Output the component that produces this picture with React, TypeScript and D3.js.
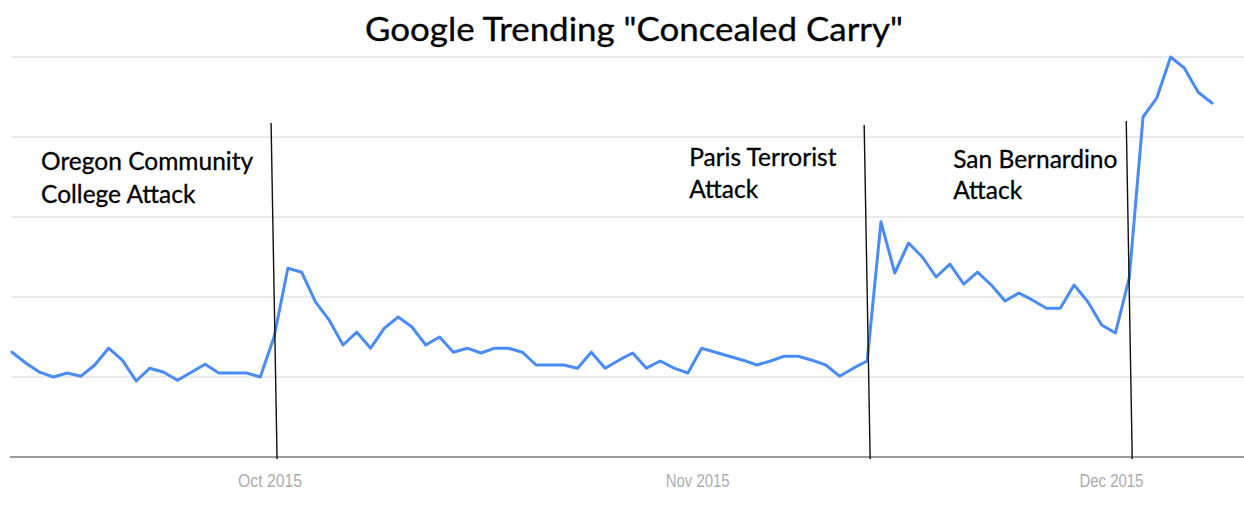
import { useEffect, useRef } from 'react';
import * as d3 from 'd3';

// daily interest, Sep 12 - Dec 8 2015 (Google Trends index, 0-100)
const startDate = new Date(2015, 8, 12);
const values = [
  26.2, 23.5, 21.2, 20, 21, 20.2, 23, 27.2, 24.2, 19,
  22.2, 21.2, 19.2, 21.2, 23.2, 21, 21, 21, 20, 30,
  47.2, 46.2, 38.8, 34.2, 28, 31.2, 27.2, 32.2, 35, 32.5,
  28, 30, 26.2, 27.2, 26, 27.2, 27.2, 26.2, 23, 23,
  23, 22.2, 26.2, 22.2, 24.2, 26, 22.2, 24, 22.2, 21,
  27.2, 26.2, 25.2, 24.2, 23, 24, 25.2, 25.2, 24.2, 23,
  20.2, 22.2, 24, 58.8, 46, 53.5, 50, 45, 48.2, 43.2,
  46.2, 43, 39, 41, 39.2, 37.2, 37.2, 43, 38.8, 33,
  31, 44.8, 85, 89.8, 100, 97.2, 91.2, 88.5,
];
const gridValues = [20, 40, 60, 80, 100];
const tickDates = [new Date(2015, 9, 1), new Date(2015, 10, 1), new Date(2015, 11, 1)];

const eventDates = [new Date(2015, 9, 1), new Date(2015, 10, 13), new Date(2015, 11, 2)];
const eventLabels = [
  ['Oregon Community', 'College Attack'],
  ['Paris Terrorist', 'Attack'],
  ['San Bernardino', 'Attack'],
];
const eventTops = [83.5, 83, 84];

// label layout relative to the top of each event line
const labelLayout = [
  { dx: -230, y: 170, lh: 33 },
  { dx: -175, y: 166, lh: 32 },
  { dx: -173, y: 168, lh: 31 },
];

const W = 1244;
const H = 508;

export default function App() {
  const ref = useRef<SVGSVGElement>(null);

  useEffect(() => {
    document.body.style.margin = '0';
    if (!ref.current) return;
    const svg = d3.select(ref.current);
    svg.selectAll('*').remove();

    const data = values.map((v, i) => ({ date: d3.timeDay.offset(startDate, i), value: v }));

    const x = d3.scaleTime()
      .domain([data[0].date, data[data.length - 1].date])
      .range([12, 1212]);
    const y = d3.scaleLinear().domain([0, 100]).range([457, 57]);

    // gridlines
    svg.append('g')
      .selectAll('line')
      .data(gridValues)
      .enter()
      .append('line')
      .attr('x1', 11).attr('x2', W)
      .attr('y1', d => y(d)).attr('y2', d => y(d))
      .style('stroke', '#ebebeb')
      .style('stroke-width', '2px');

    // baseline
    svg.append('line')
      .attr('x1', 10).attr('x2', W)
      .attr('y1', y(0)).attr('y2', y(0))
      .style('stroke', '#9c9c9c')
      .style('stroke-width', '2px');

    // month labels
    svg.append('g')
      .selectAll('text')
      .data(tickDates)
      .enter()
      .append('text')
      .attr('x', d => x(d) - 4)
      .attr('y', 487)
      .attr('text-anchor', 'middle')
      .attr('textLength', 64)
      .attr('lengthAdjust', 'spacingAndGlyphs')
      .text(d => d3.timeFormat('%b %Y')(d))
      .style('fill', '#adadad')
      .style('font-family', '"Liberation Sans", Arial, sans-serif')
      .style('font-size', '19px');

    // trend line
    const line = d3.line<{ date: Date; value: number }>()
      .x(d => x(d.date))
      .y(d => y(d.value));

    svg.append('path')
      .datum(data)
      .attr('d', line)
      .style('fill', 'none')
      .style('stroke', '#4a8cf4')
      .style('stroke-width', '3px')
      .style('stroke-linejoin', 'round')
      .style('stroke-linecap', 'round');

    // event markers
    const ev = svg.append('g')
      .selectAll('g')
      .data(eventDates)
      .enter()
      .append('g');

    ev.append('line')
      .attr('x1', d => x(d) - 3)
      .attr('y1', (_, i) => y(eventTops[i]))
      .attr('x2', d => x(d) + 3)
      .attr('y2', y(0) + 2)
      .style('stroke', '#111')
      .style('stroke-width', '1.4px');

    ev.each(function (d, i) {
      const g = d3.select(this);
      const lay = labelLayout[i];
      eventLabels[i].forEach((t, j) => {
        g.append('text')
          .attr('x', x(d) - 3 + lay.dx)
          .attr('y', lay.y + j * lay.lh)
          .text(t)
          .style('fill', '#000')
          .style('stroke', '#000')
          .style('stroke-width', '0.3px')
          .style('font-family', 'Lato, "Open Sans", sans-serif')
          .style('font-size', '24.5px');
      });
    });

    // title
    svg.append('text')
      .attr('x', 634)
      .attr('y', 41)
      .attr('text-anchor', 'middle')
      .attr('textLength', 538)
      .attr('lengthAdjust', 'spacingAndGlyphs')
      .text('Google Trending "Concealed Carry"')
      .style('fill', '#000')
      .style('stroke', '#000')
      .style('stroke-width', '0.3px')
      .style('font-family', 'Lato, "Open Sans", sans-serif')
      .style('font-size', '32px');
  }, []);

  return <svg ref={ref} width={W} height={H} style={{ display: 'block', background: '#fff' }} />;
}
